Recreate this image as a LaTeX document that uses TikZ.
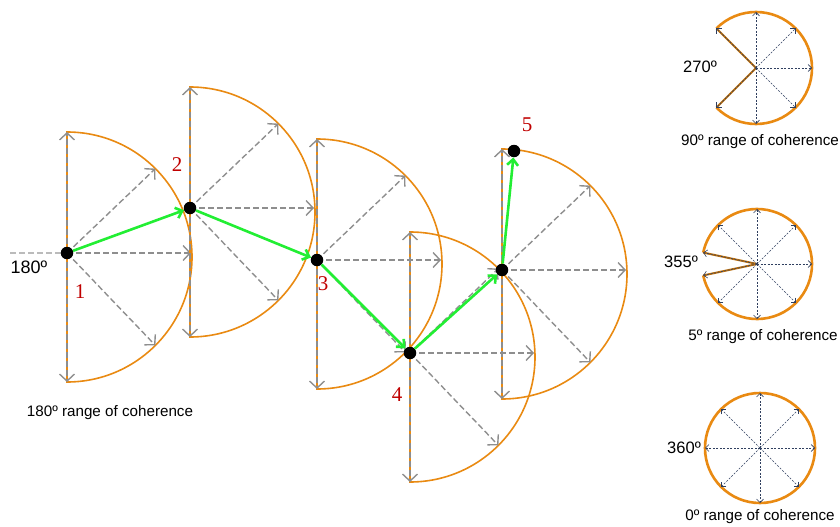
\documentclass[tikz,border=0pt]{standalone}
\usepackage{fontspec}
\setmainfont{Liberation Sans}
\newfontfamily\seriffont{Liberation Serif}
\usetikzlibrary{arrows.meta,calc}
\definecolor{orng}{HTML}{E98A12}
\definecolor{gr}{HTML}{8E8E8E}
\definecolor{lgr}{HTML}{BBBBBB}
\definecolor{grn}{HTML}{22EE33}
\definecolor{slate}{HTML}{2F3F5F}
\definecolor{dred}{HTML}{C00000}
\tikzset{
  orangeline/.style={draw=orng,line width=1.6pt},
  grayarrow/.style={draw=gr,line width=1.4pt,dash pattern=on 6pt off 3pt,
     -{Straight Barb[length=7pt,width=15pt,line width=1.4pt]}},
  greenarrow/.style={draw=grn,line width=2.6pt,
     -{Straight Barb[length=6pt,width=11pt,line width=2.6pt]}},
  dot/.style={circle,fill=black,inner sep=0pt,minimum size=12.5pt},
  numlab/.style={font=\seriffont\fontsize{21}{21}\selectfont,text=dred,inner sep=0pt},
  biglab/.style={font=\fontsize{18}{18}\selectfont,inner sep=0pt},
  smlab/.style={font=\fontsize{16.5}{16.5}\selectfont,inner sep=0pt},
  caption/.style={font=\fontsize{15.2}{15.2}\selectfont,inner sep=0pt},
  ring/.style={draw=orng,line width=2.6pt},
  edgeline/.style={draw=orng!80!black,line width=2pt},
  thinarrow/.style={draw=slate,line width=0.6pt,dash pattern=on 2pt off 1.5pt,
     -{Straight Barb[length=3.5pt,width=7pt,line width=0.6pt]}},
}
\newcommand\halfdisc[3]{%
  \coordinate (#1c) at (#2,#3+4);
  \draw[orangeline] ($(#1c)+(0,-125)$) arc[start angle=-90,end angle=90,radius=125] -- cycle;
  \foreach \a in {-90,-45,45,90} \draw[grayarrow] (#2,#3) -- ($(#1c)+(\a:125)$);
  \draw[grayarrow] (#2,#3) -- (#2+124,#3);
}
\begin{document}
\begin{tikzpicture}[x=1pt,y=-1pt]
\useasboundingbox (0,0) rectangle (840,527);
% left reference line
\draw[lgr,line width=1.2pt,dash pattern=on 6pt off 3pt] (10,253) -- (67,253);
% semicircles
\halfdisc{s1}{67}{253}
\halfdisc{s2}{190}{208}
\halfdisc{s3}{317}{260}
\halfdisc{s4}{410}{353}
\halfdisc{s5}{502}{270}
% dots
\node[dot] (p1) at (67,253) {};
\node[dot] (p2) at (190,208) {};
\node[dot] (p3) at (317,260) {};
\node[dot] (p4) at (410,353) {};
\node[dot] (p5) at (502,270) {};
\node[dot] (p6) at (514,151) {};
% green path
\draw[greenarrow] (p1) -- (p2);
\draw[greenarrow] (p2) -- (p3);
\draw[greenarrow] (p3) -- (p4);
\draw[greenarrow] (p4) -- (p5);
\draw[greenarrow] (p5) -- (p6);
% number labels
\node[numlab] (n1) at (80,292) {1};
\node[numlab] (n2) at (177,165) {2};
\node[numlab] (n3) at (323,284) {3};
\node[numlab] (n4) at (397,395) {4};
\node[numlab] (n5) at (527,125) {5};
\node[biglab] (l180) at (29,267) {180º};
\node[caption] (c180) at (110,413) {180º range of coherence};
% small circle A: 270
\coordinate (ca) at (756,68);
\draw[ring] ($(ca)+(135:56)$) arc[start angle=135,end angle=-135,radius=56];
\draw[edgeline] (ca) -- ($(ca)+(135:56)$);
\draw[edgeline] (ca) -- ($(ca)+(-135:56)$);
\foreach \a in {-135,-90,-45,0,45,90,135} \draw[thinarrow] (ca) -- ($(ca)+(\a:56)$);
\node[smlab] (l270) at (700,67) {270º};
\node[caption] (c90) at (760,142) {90º range of coherence};
% small circle B: 355
\coordinate (cb) at (757,264);
\draw[ring] ($(cb)+(168:55)$) arc[start angle=168,end angle=-168,radius=55];
\draw[edgeline] (cb) -- ($(cb)+(168:55)$);
\draw[edgeline] (cb) -- ($(cb)+(-168:55)$);
\foreach \a in {-168,-135,-90,-45,0,45,90,135,168} \draw[thinarrow] (cb) -- ($(cb)+(\a:55)$);
\node[smlab] (l355) at (681,262) {355º};
\node[caption] (c5) at (763,337) {5º range of coherence};
% small circle C: 360
\coordinate (cc) at (760,448);
\draw[ring] (cc) circle[radius=55];
\foreach \a in {0,45,...,315} \draw[thinarrow] (cc) -- ($(cc)+(\a:55)$);
\node[smlab] (l360) at (684,448) {360º};
\node[caption] (c0) at (760,517) {0º range of coherence};
\end{tikzpicture}
\end{document}
